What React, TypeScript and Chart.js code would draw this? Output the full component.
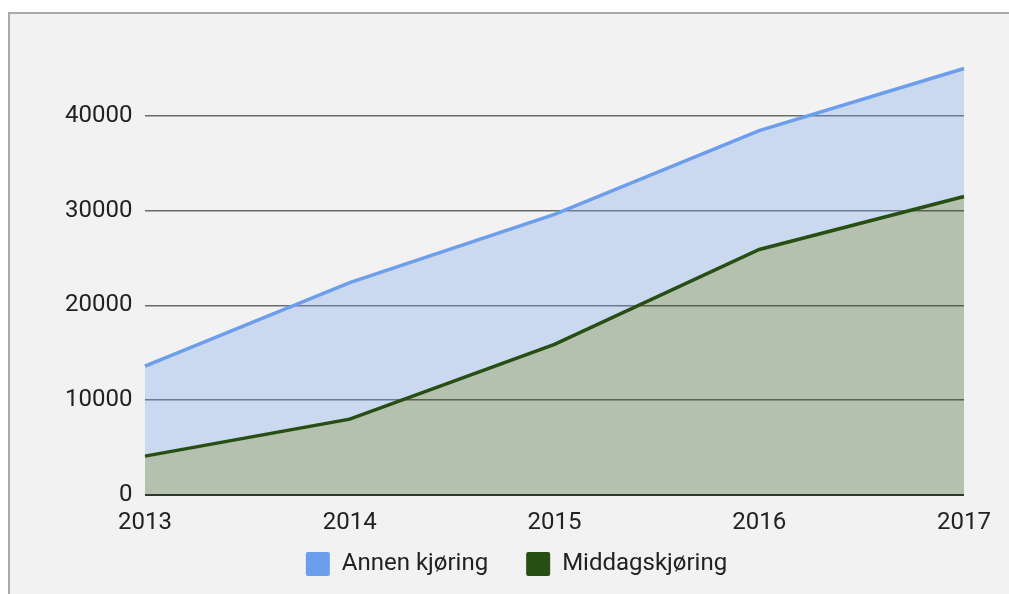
import React, { useEffect, useRef } from "react";
import { Chart, registerables } from "chart.js";

Chart.register(...registerables);

const years = ["2013", "2014", "2015", "2016", "2017"];
// stacked series (bottom first)
const middagskjoring = [4100, 8000, 15900, 25900, 31500];
const annenKjoring = [9500, 14400, 13700, 12550, 13500];
const yTicks = [0, 10000, 20000, 30000, 40000];

const BLUE = "#6d9eeb";
const GREEN = "#274e13";
const FONT = "Roboto";

export default function App() {
  const ref = useRef<HTMLCanvasElement | null>(null);

  useEffect(() => {
    if (!ref.current) return;
    const chart = new Chart(ref.current, {
      type: "line",
      data: {
        labels: years,
        datasets: [
          {
            label: "Middagskjøring",
            data: middagskjoring,
            borderColor: GREEN,
            backgroundColor: "rgba(39,78,19,0.3)",
            borderWidth: 3.5,
            pointRadius: 0,
            fill: "origin",
            tension: 0,
          },
          {
            label: "Annen kjøring",
            data: annenKjoring,
            borderColor: BLUE,
            backgroundColor: "rgba(109,158,235,0.3)",
            borderWidth: 3.5,
            pointRadius: 0,
            fill: "-1",
            tension: 0,
          },
        ],
      },
      options: {
        animation: false,
        responsive: false,
        maintainAspectRatio: false,
        layout: { padding: { left: 69, right: 45, top: 59, bottom: 8 } },
        plugins: {
          tooltip: { enabled: false },
          legend: {
            position: "bottom",
            reverse: true,
            labels: {
              font: { family: FONT, size: 24 },
              color: "#222",
              boxWidth: 24,
              boxHeight: 24,
              padding: 38,
              useBorderRadius: true,
              borderRadius: 2,
              generateLabels: (c: any) => {
                const items = Chart.defaults.plugins.legend.labels.generateLabels(c);
                return items.map((it: any) => {
                  const ds: any = c.data.datasets[it.datasetIndex];
                  return { ...it, fillStyle: ds.borderColor, strokeStyle: ds.borderColor, lineWidth: 0 };
                });
              },
            },
          },
        },
        scales: {
          x: {
            type: "category",
            offset: false,
            grid: { display: false, drawTicks: false },
            border: { display: false },
            ticks: {
              font: { family: FONT, size: 24 },
              color: "#222",
              mirror: true,
              padding: -42,
              maxRotation: 0,
              autoSkip: false,
            },
            afterFit: (s: any) => {
              s.height = 19;
            },
          },
          y: {
            type: "linear",
            stacked: true,
            min: 0,
            max: 46000,
            afterBuildTicks: (s: any) => {
              s.ticks = yTicks.map((v) => ({ value: v }));
            },
            grid: {
              drawTicks: false,
              color: (ctx: any) => (ctx.tick && ctx.tick.value === 0 ? "#333" : "#6a6a6a"),
              lineWidth: (ctx: any) => (ctx.tick && ctx.tick.value === 0 ? 2 : 1.5),
            },
            border: { display: false },
            ticks: {
              font: { family: FONT, size: 24 },
              color: "#222",
              mirror: true,
              crossAlign: "far",
              padding: -80,
              callback: (v: any) => String(v),
            },
            afterFit: (s: any) => {
              s.width = 76;
            },
          },
        },
      },
    });
    return () => chart.destroy();
  }, []);

  return (
    <div style={{ position: "fixed", left: 0, top: 0, width: 1009, height: 594, overflow: "hidden", background: "#fff" }}>
      <div
        style={{
          position: "absolute",
          left: 8,
          top: 12,
          width: 1100,
          height: 700,
          border: "2px solid #aaa",
          background: "#f2f2f2",
        }}
      />
      <canvas ref={ref} width={1009} height={594} style={{ position: "absolute", left: 0, top: 0, width: 1009, height: 594 }} />
    </div>
  );
}
